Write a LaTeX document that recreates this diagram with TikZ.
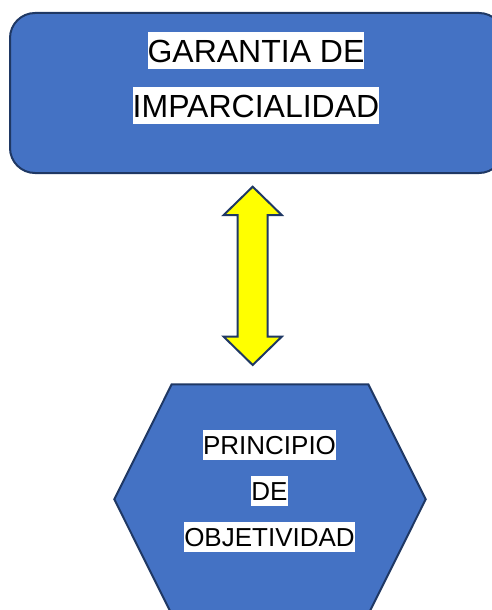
\documentclass[tikz,border=0pt]{standalone}
\usepackage{fontspec}
\setmainfont{Liberation Sans}
\definecolor{boxblue}{HTML}{4472C4}
\definecolor{edgeblue}{HTML}{1F3864}
\definecolor{arrowyellow}{HTML}{FFFF00}
\tikzset{
  shapebox/.style={fill=boxblue, draw=edgeblue, line width=2pt},
  arrowshape/.style={fill=arrowyellow, draw=edgeblue, line width=2pt, line join=miter},
  bigtext/.style={fill=white, inner sep=0pt, anchor=north, font=\fontsize{32}{36}\selectfont, text height=30.3pt, text depth=6.7pt},
  smalltext/.style={fill=white, inner sep=0pt, anchor=north, font=\fontsize{26}{30}\selectfont, text height=24.7pt, text depth=5.6pt}
}
\begin{document}
\begin{tikzpicture}[x=1pt,y=-1pt]
\useasboundingbox (0,0) rectangle (492,610);
\begin{scope}
\clip (0,0) rectangle (492,610);
% top rounded rectangle
\draw[shapebox, rounded corners=25pt] (10,13) rectangle (504,173);
\coordinate (rectbottom) at (252.7,173);
% hexagon
\draw[shapebox, line join=miter] (171.7,384.3) -- (368.3,384.3) -- (425.7,499.3) -- (368.3,614.3) -- (171.7,614.3) -- (114.3,499.3) -- cycle;
\coordinate (hextop) at (252.7,384.3);
% double arrow
\coordinate (tipA) at (252.7,186.7);
\coordinate (tipB) at (252.7,365);
\draw[arrowshape] (tipA) -- (281.7,215) -- (267.7,215) -- (267.7,336.7) -- (281.7,336.7) -- (tipB) -- (223.7,336.7) -- (237.7,336.7) -- (237.7,215) -- (223.7,215) -- cycle;
\end{scope}
% texts
\node[bigtext] (t1) at (256,32) {GARANTIA DE};
\node[bigtext] (t2) at (256,87) {IMPARCIALIDAD};
\node[smalltext] (h1) at (269.5,429.3) {PRINCIPIO};
\node[smalltext] (h2) at (269.5,475.3) {DE};
\node[smalltext] (h3) at (269.5,521.3) {OBJETIVIDAD};
\end{tikzpicture}
\end{document}
